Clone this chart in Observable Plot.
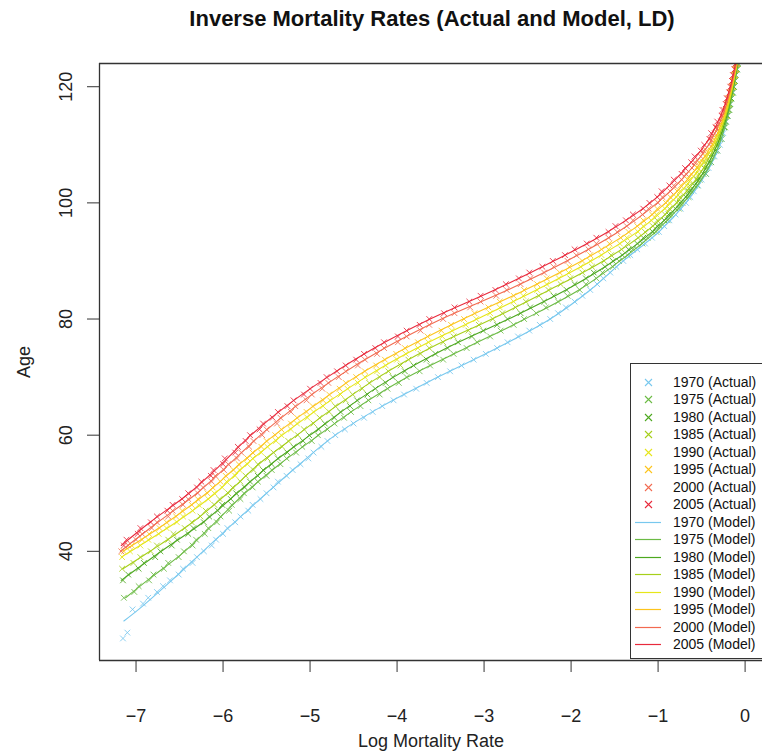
<!DOCTYPE html>
<html><head><meta charset="utf-8">
<script src="https://cdn.jsdelivr.net/npm/d3@7"></script>
<script src="https://cdn.jsdelivr.net/npm/@observablehq/plot@0.6"></script>
<style>
html,body{margin:0;padding:0;background:#fff;overflow:hidden;}
#wrap{position:relative;width:762px;height:756px;font-family:"Liberation Sans",Arial,sans-serif;overflow:hidden;}
#title{position:absolute;top:6px;left:0;width:864px;text-align:center;font-weight:bold;font-size:22px;color:#111;}
#legend{position:absolute;left:630px;top:363px;width:140px;height:294px;border:1px solid #333;border-right:none;background:#fff;font-size:14px;color:#111;}
.lrow{position:absolute;left:0;height:18px;width:140px;}
.lrow svg{position:absolute;left:0;top:0;}
.lrow span{position:absolute;left:42px;top:1px;white-space:nowrap;}
</style></head><body>
<div id="wrap"><div id="title">Inverse Mortality Rates (Actual and Model, LD)</div></div>
<script>
const years = [1970, 1975, 1980, 1985, 1990, 1995, 2000, 2005];
const colors = ["#78c8ee", "#6cbb45", "#4da81f", "#a6cf1a", "#e6e619", "#fdc41c", "#f26a50", "#e82a3c"];
const xTicks = [-7, -6, -5, -4, -3, -2, -1, 0];
const yTicks = [40, 60, 80, 100, 120];

// Actual log mortality rates at consecutive integer ages, starting at actualStartAge (null = off the chart)
const actualStartAge = [25, 32, 35, 37, 39, 40, 40, 41];
const actual1970 = [-7.15,-7.10,null,null,null,-7.04,-6.92,-6.86,-6.76,-6.69,-6.61,-6.51,-6.46,-6.35,-6.30,-6.22,-6.13,-6.08,-6.00,-5.95,-5.86,-5.80,-5.71,-5.66,-5.57,-5.50,-5.42,-5.37,-5.27,-5.20,-5.11,-5.02,-4.96,-4.87,-4.80,-4.71,-4.60,-4.50,-4.38,-4.28,-4.17,-4.04,-3.92,-3.78,-3.66,-3.53,-3.39,-3.26,-3.12,-2.98,-2.85,-2.73,-2.61,-2.48,-2.36,-2.24,-2.15,-2.06,-1.96,-1.87,-1.78,-1.70,-1.63,-1.55,-1.48,-1.40,-1.32,-1.24,-1.15,-1.07,-0.99,-0.93,-0.87,-0.80,-0.74,-0.68,-0.63,-0.59,-0.54,-0.50,-0.45,-0.42,-0.39,-0.35,-0.32,-0.29,-0.27,-0.25,-0.24,-0.22,-0.20,-0.19,-0.17,-0.16,-0.14,-0.13,-0.12,-0.11,-0.09,-0.08];
const actual1975 = [-7.14,-7.02,-6.97,-6.85,-6.80,-6.68,-6.63,-6.51,-6.45,-6.35,-6.31,-6.21,-6.17,-6.07,-6.03,-5.93,-5.90,-5.80,-5.76,-5.66,-5.60,-5.50,-5.44,-5.34,-5.27,-5.16,-5.09,-4.98,-4.91,-4.80,-4.72,-4.61,-4.53,-4.42,-4.33,-4.20,-4.11,-3.98,-3.89,-3.74,-3.62,-3.47,-3.35,-3.20,-3.08,-2.93,-2.81,-2.66,-2.54,-2.40,-2.29,-2.15,-2.04,-1.90,-1.83,-1.71,-1.64,-1.52,-1.45,-1.35,-1.29,-1.18,-1.12,-1.02,-0.98,-0.89,-0.85,-0.76,-0.72,-0.65,-0.62,-0.55,-0.52,-0.45,-0.44,-0.39,-0.37,-0.32,-0.31,-0.27,-0.27,-0.23,-0.22,-0.20,-0.18,-0.17,-0.16,-0.14,-0.13,-0.12,-0.11,-0.09,-0.08];
const actual1980 = [-7.15,-7.09,-6.97,-6.91,-6.78,-6.72,-6.59,-6.53,-6.40,-6.34,-6.22,-6.16,-6.06,-6.01,-5.91,-5.85,-5.75,-5.69,-5.60,-5.54,-5.44,-5.37,-5.26,-5.19,-5.08,-5.01,-4.90,-4.83,-4.72,-4.65,-4.54,-4.46,-4.34,-4.25,-4.13,-4.05,-3.91,-3.81,-3.66,-3.56,-3.42,-3.30,-3.14,-3.01,-2.85,-2.73,-2.58,-2.47,-2.31,-2.20,-2.05,-1.96,-1.83,-1.74,-1.61,-1.52,-1.41,-1.34,-1.24,-1.17,-1.06,-1.01,-0.93,-0.88,-0.80,-0.75,-0.68,-0.65,-0.58,-0.55,-0.48,-0.47,-0.41,-0.40,-0.34,-0.33,-0.29,-0.28,-0.24,-0.23,-0.21,-0.19,-0.18,-0.16,-0.15,-0.13,-0.12,-0.11,-0.10,-0.09];
const actual1985 = [-7.16,-7.03,-6.95,-6.83,-6.76,-6.63,-6.57,-6.44,-6.36,-6.26,-6.20,-6.10,-6.04,-5.94,-5.89,-5.80,-5.74,-5.65,-5.60,-5.49,-5.42,-5.32,-5.25,-5.14,-5.07,-4.96,-4.89,-4.78,-4.71,-4.59,-4.51,-4.40,-4.32,-4.20,-4.10,-3.96,-3.87,-3.73,-3.63,-3.47,-3.35,-3.18,-3.06,-2.90,-2.79,-2.64,-2.52,-2.37,-2.26,-2.12,-2.01,-1.87,-1.76,-1.62,-1.54,-1.42,-1.35,-1.23,-1.15,-1.06,-1.01,-0.92,-0.87,-0.78,-0.75,-0.67,-0.64,-0.56,-0.53,-0.47,-0.46,-0.40,-0.39,-0.33,-0.32,-0.28,-0.27,-0.24,-0.22,-0.20,-0.19,-0.17,-0.16,-0.14,-0.13,-0.12,-0.10,-0.09];
const actual1990 = [-7.16,-7.07,-6.95,-6.86,-6.74,-6.65,-6.53,-6.46,-6.35,-6.28,-6.17,-6.10,-6.01,-5.96,-5.86,-5.81,-5.72,-5.66,-5.56,-5.49,-5.39,-5.33,-5.22,-5.15,-5.03,-4.96,-4.85,-4.77,-4.65,-4.57,-4.45,-4.37,-4.23,-4.13,-4.00,-3.90,-3.76,-3.64,-3.48,-3.37,-3.21,-3.09,-2.93,-2.82,-2.66,-2.55,-2.39,-2.28,-2.14,-2.03,-1.89,-1.78,-1.65,-1.57,-1.44,-1.36,-1.23,-1.17,-1.08,-1.02,-0.92,-0.87,-0.79,-0.75,-0.67,-0.64,-0.56,-0.54,-0.48,-0.45,-0.39,-0.37,-0.32,-0.31,-0.27,-0.26,-0.22,-0.21,-0.19,-0.18,-0.16,-0.15,-0.13,-0.12,-0.11,-0.10];
const actual1995 = [-7.14,-7.05,-6.93,-6.85,-6.73,-6.65,-6.54,-6.47,-6.36,-6.29,-6.18,-6.12,-6.03,-5.97,-5.88,-5.82,-5.72,-5.66,-5.56,-5.50,-5.40,-5.33,-5.22,-5.15,-5.04,-4.97,-4.85,-4.78,-4.66,-4.59,-4.47,-4.37,-4.24,-4.14,-4.01,-3.91,-3.76,-3.65,-3.49,-3.38,-3.23,-3.11,-2.95,-2.82,-2.66,-2.54,-2.39,-2.28,-2.13,-2.02,-1.87,-1.78,-1.65,-1.56,-1.43,-1.34,-1.24,-1.17,-1.07,-1.01,-0.91,-0.86,-0.78,-0.74,-0.66,-0.62,-0.55,-0.53,-0.46,-0.44,-0.37,-0.36,-0.31,-0.30,-0.26,-0.24,-0.22,-0.20,-0.19,-0.17,-0.15,-0.14,-0.12,-0.11,-0.09];
const actual2000 = [-7.17,-7.09,-7.00,-6.93,-6.82,-6.76,-6.63,-6.58,-6.46,-6.40,-6.29,-6.23,-6.13,-6.09,-5.99,-5.94,-5.84,-5.79,-5.70,-5.65,-5.55,-5.50,-5.38,-5.34,-5.22,-5.17,-5.04,-4.98,-4.86,-4.79,-4.67,-4.59,-4.45,-4.37,-4.23,-4.15,-3.99,-3.89,-3.73,-3.63,-3.47,-3.34,-3.16,-3.04,-2.86,-2.74,-2.58,-2.47,-2.31,-2.20,-2.04,-1.94,-1.80,-1.71,-1.57,-1.47,-1.36,-1.29,-1.18,-1.11,-1.00,-0.95,-0.86,-0.82,-0.73,-0.68,-0.61,-0.58,-0.51,-0.48,-0.41,-0.40,-0.35,-0.33,-0.28,-0.26,-0.24,-0.22,-0.20,-0.18,-0.16,-0.15,-0.13,-0.12,-0.10];
const actual2005 = [-7.14,-7.11,-6.98,-6.95,-6.83,-6.76,-6.64,-6.58,-6.47,-6.40,-6.30,-6.25,-6.14,-6.11,-6.00,-5.98,-5.86,-5.83,-5.74,-5.69,-5.58,-5.54,-5.43,-5.37,-5.26,-5.19,-5.07,-5.00,-4.88,-4.81,-4.69,-4.59,-4.47,-4.38,-4.25,-4.15,-3.99,-3.89,-3.74,-3.63,-3.46,-3.34,-3.17,-3.04,-2.87,-2.75,-2.60,-2.48,-2.33,-2.21,-2.07,-1.96,-1.82,-1.71,-1.57,-1.49,-1.37,-1.29,-1.17,-1.10,-1.01,-0.96,-0.87,-0.82,-0.73,-0.69,-0.62,-0.58,-0.51,-0.47,-0.41,-0.39,-0.34,-0.32,-0.27,-0.26,-0.22,-0.21,-0.18,-0.17,-0.15,-0.14,-0.12,-0.11];

// Model (LD) log mortality rates at the listed ages
const modelAges1970 = [28,30,35,40,45,50,55,60,65,70,75,80,85,90,95,100,105,110,115,120,124];
const model1970 = [-7.14,-6.97,-6.59,-6.23,-5.87,-5.50,-5.12,-4.71,-4.17,-3.53,-2.85,-2.24,-1.78,-1.40,-0.99,-0.68,-0.45,-0.29,-0.20,-0.13,-0.08];
const modelAges1975 = [32,35,40,45,50,55,60,65,70,75,80,85,90,95,100,105,110,115,120,124];
const model1975 = [-7.12,-6.87,-6.44,-6.09,-5.75,-5.35,-4.90,-4.43,-3.88,-3.21,-2.53,-1.91,-1.44,-1.03,-0.71,-0.46,-0.30,-0.20,-0.13,-0.08];
const modelAges1980 = [35,40,45,50,55,60,65,70,75,80,85,90,95,100,105,110,115,120,124];
const model1980 = [-7.17,-6.71,-6.23,-5.84,-5.45,-5.00,-4.55,-4.04,-3.43,-2.72,-2.06,-1.51,-1.07,-0.74,-0.49,-0.32,-0.21,-0.134,-0.085];
const modelAges1985 = [37,40,45,50,55,60,65,70,75,80,85,90,95,100,105,110,115,120,124];
const model1985 = [-7.15,-6.84,-6.35,-5.95,-5.59,-5.15,-4.70,-4.21,-3.62,-2.91,-2.25,-1.63,-1.14,-0.79,-0.52,-0.34,-0.22,-0.14,-0.09];
const modelAges1990 = [39,45,50,55,60,65,70,75,80,85,90,95,100,105,110,115,120,124];
const model1990 = [-7.17,-6.54,-6.09,-5.73,-5.32,-4.86,-4.36,-3.77,-3.08,-2.40,-1.77,-1.24,-0.855,-0.57,-0.36,-0.23,-0.146,-0.095];
const modelAges1995 = [40,45,50,55,60,65,70,75,80,85,90,95,100,105,110,115,120,124];
const model1995 = [-7.15,-6.64,-6.19,-5.81,-5.41,-4.96,-4.48,-3.90,-3.24,-2.53,-1.88,-1.33,-0.915,-0.61,-0.38,-0.24,-0.15,-0.09];
const modelAges2000 = [40,45,50,55,60,65,70,75,80,85,90,95,100,105,110,115,120,124];
const model2000 = [-7.18,-6.75,-6.30,-5.93,-5.57,-5.16,-4.69,-4.14,-3.49,-2.73,-2.05,-1.46,-1.01,-0.67,-0.42,-0.26,-0.16,-0.10];
const modelAges2005 = [41,45,50,55,60,65,70,75,80,85,90,95,100,105,110,115,120,124];
const model2005 = [-7.17,-6.84,-6.39,-6.02,-5.68,-5.275,-4.80,-4.26,-3.62,-2.88,-2.20,-1.58,-1.09,-0.74,-0.46,-0.28,-0.17,-0.11];

const actualSeries = [actual1970, actual1975, actual1980, actual1985, actual1990, actual1995, actual2000, actual2005];
const modelSeries = [model1970, model1975, model1980, model1985, model1990, model1995, model2000, model2005];
const modelAgeSeries = [modelAges1970, modelAges1975, modelAges1980, modelAges1985, modelAges1990, modelAges1995, modelAges2000, modelAges2005];

const actualRows = [];
const modelRows = [];
years.forEach((yr, i) => {
  actualSeries[i].forEach((v, j) => { if (v !== null) actualRows.push({year: String(yr), age: actualStartAge[i] + j, lm: v}); });
  modelSeries[i].forEach((v, j) => modelRows.push({year: String(yr), age: modelAgeSeries[i][j], lm: v}));
});

const xDomain = [-7.42, 0.2];
const yDomain = [21.2, 124];

const chart = Plot.plot({
  width: 762, height: 756,
  marginTop: 63, marginBottom: 96, marginLeft: 99, marginRight: 0,
  style: {fontFamily: "'Liberation Sans', Arial, sans-serif", fontSize: "17px", color: "#222", background: "transparent", overflow: "visible"},
  x: {domain: xDomain},
  y: {domain: yDomain},
  color: {domain: years.map(String), range: colors},
  marks: [
    Plot.axisX({ticks: xTicks, tickSize: 12, tickPadding: 37, stroke: "#333", label: "Log Mortality Rate", labelAnchor: "center", labelOffset: 86, labelArrow: "none", fontSize: 18}),
    Plot.axisY({ticks: yTicks, tickSize: 12, tickPadding: 16, tickRotate: -90, stroke: "#333", label: "Age", labelAnchor: "center", labelOffset: 82, labelArrow: "none", fontSize: 18}),
    Plot.dot(actualRows, {x: "lm", y: "age", stroke: "year", symbol: "times", r: 2.7, strokeWidth: 0.85, clip: true}),
    Plot.line(modelRows, {x: "lm", y: "age", z: "year", stroke: "year", strokeWidth: 1.1, curve: "catmull-rom", clip: true}),
    Plot.ruleY([yDomain[0], yDomain[1]], {stroke: "#333", strokeWidth: 1.3}),
    Plot.ruleX([xDomain[0]], {stroke: "#333", strokeWidth: 1.3})
  ]
});
const wrap = document.getElementById("wrap");
chart.style.position = "absolute";
chart.style.left = "0px";
chart.style.top = "0px";
wrap.appendChild(chart);
wrap.appendChild(document.getElementById("title"));

// Legend
const legend = document.createElement("div");
legend.id = "legend";
const rowH = 17.47;
const entries = [];
years.forEach((y, i) => entries.push({label: y + " (Actual)", color: colors[i], kind: "x"}));
years.forEach((y, i) => entries.push({label: y + " (Model)", color: colors[i], kind: "line"}));
entries.forEach((e, k) => {
  const row = document.createElement("div");
  row.className = "lrow";
  row.style.top = (9 + k * rowH) + "px";
  const sym = e.kind === "x"
    ? `<svg width="40" height="18"><path d="M14,6L21,13M21,6L14,13" stroke="${e.color}" stroke-width="1.1"/></svg>`
    : `<svg width="40" height="18"><line x1="4" x2="30" y1="9.5" y2="9.5" stroke="${e.color}" stroke-width="1.2"/></svg>`;
  row.innerHTML = sym + `<span>${e.label}</span>`;
  legend.appendChild(row);
});
wrap.appendChild(legend);
</script>
</body></html>
